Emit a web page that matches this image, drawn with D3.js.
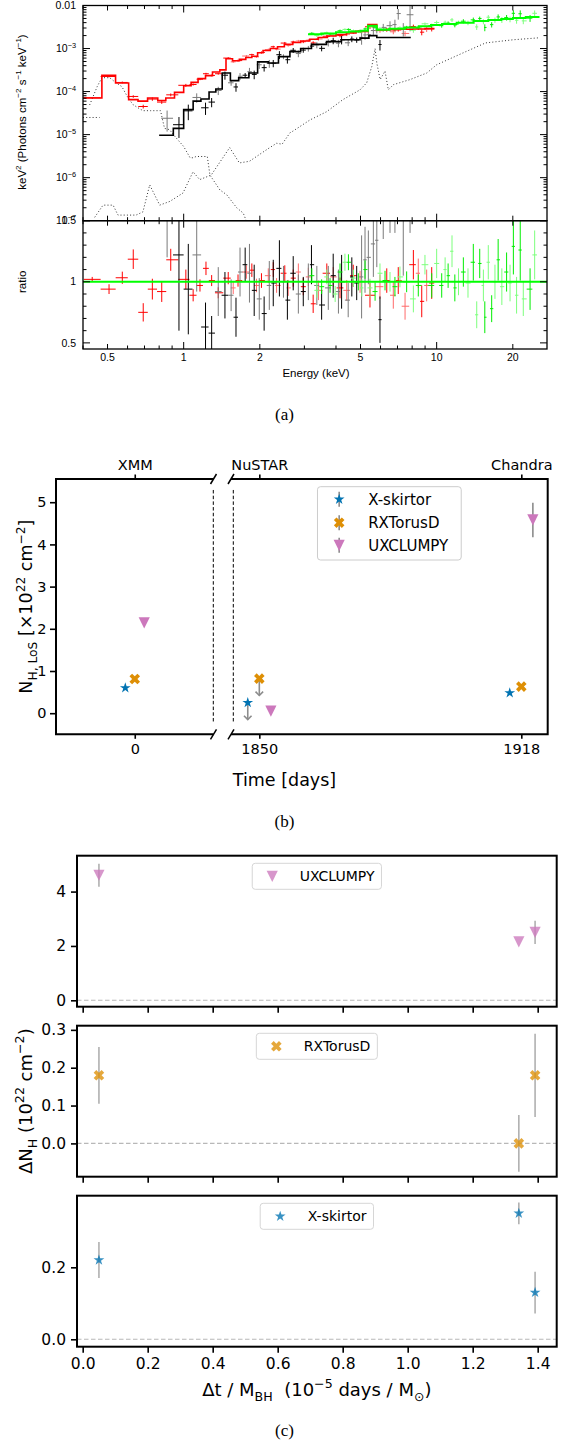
<!DOCTYPE html>
<html>
<head>
<meta charset="utf-8">
<title>Broadband X-ray spectrum and line-of-sight column density</title>
<script src="https://cdn.jsdelivr.net/npm/d3@7/dist/d3.min.js"></script>
<style>
  html, body { margin: 0; padding: 0; background: #fff; }
  svg { display: block; }
  text { white-space: pre; }
</style>
</head>
<body>
<svg id="fig" width="569" height="1445" viewBox="0 0 569 1445"></svg>
<script>
// ================= (a) unfolded spectrum + data/model ratio =================
// Model curves: bin edges (keV) and E^2 F(E) per bin (photons cm^-2 s^-1 keV)
const xmmModelEdges = [0.40,0.475,0.538,0.606,0.66,0.72,0.79,0.85,0.92,1.0,1.07,1.14,1.22,1.30,1.39,1.47,1.56,1.66,1.76,1.86,1.96,2.06,2.2,2.35,2.5,2.7,2.9,3.15,3.4,3.7,4.0,4.4,4.8,5.35,5.8,6.4,7.2,8.0,9.0,9.8];
const xmmModelFlux = [7.1e-5,2.38e-4,1.58e-4,6.5e-5,6.0e-5,7.1e-5,6.2e-5,7.1e-5,9.6e-5,1.37e-4,1.64e-4,2.0e-4,2.35e-4,2.86e-4,3.2e-4,5.8e-4,5.2e-4,5.6e-4,6.2e-4,6.6e-4,8.0e-4,9.0e-4,1.0e-3,1.1e-3,1.25e-3,1.38e-3,1.5e-3,1.65e-3,1.8e-3,1.95e-3,2.1e-3,2.3e-3,2.5e-3,3.6e-3,2.7e-3,2.75e-3,2.8e-3,2.85e-3,2.9e-3];
const chandraModelEdges = [0.80,0.91,1.00,1.09,1.17,1.26,1.34,1.42,1.53,1.65,1.81,1.96,2.16,2.37,2.63,2.90,3.20,3.67,4.20,4.98,5.40,5.80,7.90];
const chandraModelFlux = [9.7e-6,1.4e-5,3.8e-5,6.0e-5,6.7e-5,9.8e-5,1.15e-4,2.7e-4,1.8e-4,2.1e-4,2.7e-4,4.9e-4,4.6e-4,6.5e-4,8.5e-4,1.0e-3,1.25e-3,1.45e-3,1.6e-3,1.75e-3,2.0e-3,1.8e-3];
const nustarModelEdges = [3.1,3.5,4.0,4.5,5.0,5.35,5.8,6.5,7.5,8.5,9.5,10.5,12,14,16,18,20,22.5,25.5];
const nustarModelFlux = [2.15e-3,2.25e-3,2.4e-3,2.5e-3,2.6e-3,3.4e-3,2.75e-3,2.9e-3,3.1e-3,3.3e-3,3.5e-3,3.7e-3,4.0e-3,4.35e-3,4.6e-3,4.85e-3,5.1e-3,5.4e-3];

// Additive model components (dotted)
const compSoftE = [0.40, 0.465];
const compSoftF = [2.5e-5, 2.5e-5];
const compThermalE = [0.425,0.455,0.475,0.51,0.54,0.57,0.60,0.63,0.66,0.69,0.74,0.81,0.84,0.88,0.91,1.0,1.06,1.09,1.12,1.24,1.27,1.39,1.48,1.62,1.72,1.78];
const compThermalF = [4.9e-5,1.3e-4,2.1e-4,2.1e-4,1.6e-4,1.3e-4,7.5e-5,5.0e-5,4.2e-5,3.6e-5,3.6e-5,3.6e-5,1.4e-5,1.3e-5,1.0e-5,5.3e-6,2.9e-6,2.9e-6,3.1e-6,3.1e-6,1.15e-6,5.2e-7,4.0e-7,2.0e-7,1.5e-7,9e-8];
const compReflE = [0.445,0.48,0.526,0.55,0.648,0.69,0.734,0.804,0.881,0.994,1.089,1.157,1.285,1.52,1.66,1.82,2.0,2.19,2.33,2.45,2.63,2.70,3.16,3.67,4.26,4.98,5.29,5.54,5.71,5.80,5.98,6.25,6.44,6.75,7.85,9.14,10.0,12.7,15.6,20.1,25.2];
const compReflF = [1.2e-7,2.3e-7,2.3e-7,1.35e-7,1.35e-7,1.6e-7,6.8e-7,2.3e-7,2.8e-7,4.4e-7,1.37e-6,9e-7,1.15e-6,5.0e-6,2.2e-6,2.4e-6,3.5e-6,5.0e-6,6.3e-6,6.0e-6,1.1e-5,1.2e-5,2.2e-5,3.4e-5,6.5e-5,1.1e-4,1.6e-4,3.8e-4,1.0e-3,4.6e-4,1.9e-4,3.0e-4,1.1e-4,1.45e-4,1.9e-4,2.7e-4,4.2e-4,7.9e-4,1.35e-3,1.6e-3,1.77e-3];

// Spectral bins: centre energy (keV), unfolded flux, data/model ratio, ratio error
const xmmE = [0.435,0.507,0.572,0.632,0.692,0.752,0.819,0.889,1.02,1.09,1.16,1.225,1.29,1.37,1.50,1.57,1.64,1.77,1.86,1.94,2.03,2.16,2.26,2.33,2.51,2.59,2.71,2.84,2.97,3.11,3.25,3.41,3.68,3.90,4.15,4.41,4.68,4.98,5.45,5.97,6.35,6.74,7.05,7.50,8.09,8.46,8.73,9.13,9.56];
const xmmFlux = [7.2e-5,2.24e-4,1.63e-4,7.7e-5,4.5e-5,6.7e-5,5.7e-5,8.4e-5,1.4e-4,1.46e-4,1.94e-4,2.6e-4,2.37e-4,2.6e-4,6.0e-4,4.9e-4,5.25e-4,6.7e-4,7.2e-4,6.4e-4,8.1e-4,9.45e-4,1.1e-3,9.7e-4,1.34e-3,1.19e-3,1.42e-3,1.49e-3,1.44e-3,1.56e-3,1.35e-3,1.67e-3,1.93e-3,2.03e-3,2.0e-3,2.14e-3,2.4e-3,2.5e-3,3.2e-3,2.6e-3,2.73e-3,2.45e-3,2.78e-3,2.24e-3,3.25e-3,3.05e-3,2.4e-3,2.8e-3,2.87e-3];
const xmmRatio = [1.02,0.94,1.033,1.185,0.75,0.94,0.92,1.18,1.02,0.89,0.97,1.11,1.01,0.91,1.03,0.95,1.01,1.08,1.095,0.97,1.01,1.05,1.1,0.97,1.07,0.95,1.03,1.08,0.96,1.04,0.82,0.93,1.07,1.04,0.95,0.93,1.05,1.0,0.89,0.96,1.01,0.89,1.01,0.80,1.14,1.07,0.84,0.97,0.99];
const xmmRatioErr = [0.02,0.04,0.05,0.08,0.075,0.085,0.085,0.09,0.08,0.05,0.05,0.055,0.045,0.045,0.05,0.05,0.05,0.055,0.055,0.055,0.06,0.06,0.06,0.06,0.065,0.065,0.07,0.07,0.07,0.075,0.075,0.08,0.08,0.08,0.085,0.085,0.09,0.09,0.1,0.1,0.1,0.11,0.11,0.11,0.12,0.12,0.13,0.13,0.13];

const chandraE = [0.86,0.958,1.043,1.126,1.22,1.29,1.37,1.456,1.54,1.61,1.67,1.75,1.82,1.90,1.99,2.08,2.18,2.26,2.39,2.48,2.57,2.71,2.84,2.97,3.11,3.20,3.36,3.51,3.73,3.90,4.09,4.21,4.47,4.62,4.83,5.05,5.21,5.37,5.62,5.80,5.97,6.15,6.54,6.84,7.05,7.38,7.85];
const chandraFlux = [2.4e-5,1.7e-5,3.57e-5,7.3e-5,4.2e-5,5.7e-5,1.06e-4,2.4e-4,1.6e-4,1.28e-4,2.27e-4,2.4e-4,2.9e-4,2.5e-4,4.2e-4,3.6e-4,4.5e-4,4.55e-4,7.2e-4,6.5e-4,5.5e-4,9.1e-4,7.65e-4,9.2e-4,1.0e-3,1.14e-3,1.21e-3,1.01e-3,1.38e-3,1.52e-3,1.33e-3,1.6e-3,1.36e-3,1.66e-3,1.58e-3,1.82e-3,2.07e-3,2.1e-3,2.62e-3,2.68e-3,1.24e-3,3.1e-3,3.4e-3,3.6e-3,6.5e-3,2.9e-3,6.1e-3];
const chandraRatio = [2.45,1.22,0.94,1.22,0.63,0.58,0.92,0.89,0.89,0.71,1.08,1.14,1.07,0.93,0.86,0.74,0.97,0.99,1.11,1.0,0.85,1.07,0.9,0.92,1.0,1.14,0.97,0.81,0.95,1.05,0.92,1.0,0.85,1.04,0.99,1.04,1.18,1.2,1.31,1.34,0.69,1.7,1.9,2.0,3.6,1.6,3.4];
const chandraRatioErr = [1.25,0.62,0.37,0.3,0.2,0.14,0.2,0.19,0.13,0.16,0.2,0.14,0.24,0.21,0.17,0.14,0.2,0.19,0.23,0.13,0.16,0.14,0.16,0.12,0.15,0.16,0.16,0.12,0.18,0.18,0.18,0.22,0.14,0.16,0.14,0.34,0.27,0.22,0.27,0.22,0.19,0.35,0.5,0.6,1.0,0.55,2.0];
const chandraObsId = [1,0,0,1,0,0,1,0,1,0,1,0,1,0,1,0,1,0,0,1,0,0,1,0,1,0,1,0,1,0,1,0,1,0,0,1,1,1,1,1,0,1,1,1,1,1,1];

const nustarE = [3.21,3.36,3.51,3.68,3.79,3.97,4.15,4.34,4.48,4.69,4.90,5.06,5.21,5.45,5.71,5.97,6.25,6.54,6.84,7.16,7.61,8.09,8.46,8.99,9.56,10.0,10.47,10.8,11.1,11.5,11.8,12.2,12.75,13.3,13.96,14.4,14.8,15.3,15.5,16.0,16.5,17.0,17.5,18.1,18.9,19.5,20.1,20.7,21.4,22.0,23.4,24.4];
const nustarFlux = [2.26e-3,2.0e-3,2.16e-3,2.34e-3,2.18e-3,2.03e-3,2.59e-3,2.78e-3,2.78e-3,2.58e-3,2.5e-3,2.47e-3,2.86e-3,3.23e-3,3.13e-3,2.94e-3,2.78e-3,2.9e-3,2.78e-3,3.02e-3,3.1e-3,2.67e-3,3.0e-3,3.76e-3,3.4e-3,4.03e-3,3.4e-3,4.07e-3,3.89e-3,4.63e-3,3.52e-3,4.0e-3,4.32e-3,3.96e-3,4.64e-3,3.18e-3,5.0e-3,4.22e-3,3.09e-3,5.34e-3,3.59e-3,4.6e-3,5.43e-3,4.66e-3,5.24e-3,4.8e-3,6.58e-3,4.54e-3,6.43e-3,4.39e-3,5.08e-3,6.59e-3];
const nustarRatio = [1.05,0.93,0.96,1.04,0.97,0.9,1.08,1.16,1.16,1.03,1.0,0.95,1.1,0.95,0.92,1.07,1.01,1.0,0.96,1.04,1.0,0.86,0.97,1.14,0.97,1.15,0.97,1.1,1.05,1.25,0.95,1.0,1.08,0.99,1.16,0.73,1.15,0.97,0.71,1.16,0.78,1.0,1.18,0.96,1.08,0.99,1.29,0.89,1.26,0.86,0.94,1.22];
const nustarRatioErr = [0.06,0.06,0.06,0.06,0.06,0.065,0.07,0.07,0.065,0.07,0.07,0.07,0.075,0.075,0.075,0.08,0.08,0.08,0.08,0.085,0.085,0.11,0.09,0.08,0.1,0.12,0.1,0.1,0.1,0.13,0.11,0.11,0.12,0.12,0.15,0.11,0.12,0.13,0.13,0.14,0.11,0.14,0.17,0.15,0.16,0.15,0.23,0.15,0.25,0.14,0.17,0.2];

const energyTickValues = [0.5, 1, 2, 5, 10, 20];
const fluxTickExponents = [-2, -3, -4, -5, -6, -7];
const ratioTickValues = [0.5, 1, 1.5];

// ================= (b) N_H,LoS per epoch =================
const epochDays = [0, 1850, 1918];
const epochNames = ["XMM", "NuSTAR", "Chandra"];
const modelNames = ["X-skirtor", "RXTorusD", "UXCLUMPY"];
const modelDayOffset = [-3, 0, 3];
const nhSkirtor = [0.60, 0.25, 0.48];
const nhRXTorus = [0.81, 0.82, 0.63];
const nhUXClumpy = [2.14, 0.05, 4.58];
const nhErrSkirtor = [0, 0.4, 0];
const nhErrRXTorus = [0, 0.4, 0];
const nhErrUXClumpy = [0, 0, 0.41];
const nhUpperLimSkirtor = [false, true, false];
const nhUpperLimRXTorus = [false, true, false];
const nhUpperLimUXClumpy = [false, false, false];
const nhTickValues = [0, 1, 2, 3, 4, 5];

// ================= (c) Delta N_H vs Delta t / M_BH =================
const dtPerMass = [0.05, 1.342, 1.392];
const dnhUXClumpy = [4.6, 2.15, 2.5];
const dnhErrUXClumpy = [0.42, 0, 0.43];
const dnhRXTorus = [0.18, 0.0, 0.18];
const dnhErrRXTorus = [0.075, 0.075, 0.11];
const dnhSkirtor = [0.22, 0.35, 0.13];
const dnhErrSkirtor = [0.05, 0.03, 0.058];
const dtTickValues = [0, 0.2, 0.4, 0.6, 0.8, 1.0, 1.2, 1.4];

// ---------------------------------------------------------------------------
const svg = d3.select("#fig");
const F_SANS = "'Liberation Sans', Arial, Helvetica, sans-serif";
const F_MPL = "'DejaVu Sans', 'Noto Sans', sans-serif";
const F_SERIF = "'Liberation Serif', 'Times New Roman', serif";

// text with sub/superscripts built from tspans
function rich(sel, parts, size) {
  let shift = 0;
  parts.forEach(p => {
    const off = p.sub ? size * 0.28 : p.sup ? -size * 0.42 : 0;
    sel.append("tspan")
      .attr("dy", (off - shift).toFixed(2))
      .attr("font-size", (p.sub || p.sup) ? size * 0.7 : size)
      .text(p.t);
    shift = off;
  });
  return sel;
}

// marker shapes
const symStar = d3.symbolStar;
const symXFilled = {
  draw(ctx, size) {
    const s = Math.sqrt(size) / 4;
    const p = [[-1,-2],[0,-1],[1,-2],[2,-1],[1,0],[2,1],[1,2],[0,1],[-1,2],[-2,1],[-1,0],[-2,-1]];
    ctx.moveTo(p[0][0] * s, p[0][1] * s);
    for (let i = 1; i < p.length; i++) ctx.lineTo(p[i][0] * s, p[i][1] * s);
    ctx.closePath();
  }
};
const symTriDown = {
  draw(ctx, size) {
    const h = Math.sqrt(size) / 2;
    ctx.moveTo(-h, -h); ctx.lineTo(h, -h); ctx.lineTo(0, h); ctx.closePath();
  }
};
const modelStyle = [
  { type: symStar, size: 36, color: "#0173b2" },
  { type: symXFilled, size: 112, color: "#de8f05" },
  { type: symTriDown, size: 125, color: "#cc78bc" }
];
const markerPath = i => d3.symbol().type(modelStyle[i].type).size(modelStyle[i].size)();

// =========================== panel (a) ===========================
const A = { x0: 83, x1: 547, top: 5.5, mid: 220.7, bot: 349 };
const xE = d3.scaleLog().domain([0.4, 27.3]).range([A.x0, A.x1]);
const yF = d3.scaleLog().domain([1e-7, 1e-2]).range([A.mid, A.top]);
const yR = d3.scaleLinear().domain([0.45, 1.5]).range([A.bot, A.mid]);

const defs = svg.append("defs");
defs.append("clipPath").attr("id", "clipSpec").append("rect")
  .attr("x", A.x0).attr("y", A.top).attr("width", A.x1 - A.x0).attr("height", A.mid - A.top);
defs.append("clipPath").attr("id", "clipRatio").append("rect")
  .attr("x", A.x0).attr("y", A.mid).attr("width", A.x1 - A.x0).attr("height", A.bot - A.mid);

const gSpec = svg.append("g").attr("clip-path", "url(#clipSpec)");
const gRat = svg.append("g").attr("clip-path", "url(#clipRatio)");

const lineE = d3.line().x(d => xE(d[0])).y(d => yF(d[1]));

function drawComponent(E, F) {
  gSpec.append("path")
    .attr("d", lineE(E.map((e, i) => [e, F[i]])))
    .attr("fill", "none").attr("stroke", "#333").attr("stroke-width", 1)
    .attr("stroke-dasharray", "1 2.2");
}
drawComponent(compSoftE, compSoftF);
drawComponent(compThermalE, compThermalF);
drawComponent(compReflE, compReflF);

function binBounds(E) {
  return E.map((e, i) => {
    const lo = i > 0 ? Math.sqrt(E[i - 1] * e) : e * Math.sqrt(e / E[1]);
    const hi = i < E.length - 1 ? Math.sqrt(e * E[i + 1]) : e * Math.sqrt(e / E[i - 1]);
    return [lo, hi];
  });
}

function drawSpectrum(E, F, R, RE, colorOf) {
  const b = binBounds(E);
  const pts = E.map((e, i) => ({ e, f: F[i], r: R[i], re: RE[i], lo: b[i][0], hi: b[i][1], c: colorOf(i) }));
  const gs = gSpec.append("g").attr("stroke-width", 1);
  gs.selectAll("g").data(pts).join("g").attr("stroke", d => d.c).each(function (d) {
    const g = d3.select(this);
    const rel = d.re / d.r;
    g.append("line").attr("x1", xE(d.lo)).attr("x2", xE(d.hi)).attr("y1", yF(d.f)).attr("y2", yF(d.f));
    g.append("line").attr("x1", xE(d.e)).attr("x2", xE(d.e))
      .attr("y1", yF(d.f * (1 + rel))).attr("y2", yF(Math.max(d.f * (1 - rel), 1e-9)));
  });
  const gr = gRat.append("g").attr("stroke-width", 1);
  gr.selectAll("g").data(pts).join("g").attr("stroke", d => d.c).each(function (d) {
    const g = d3.select(this);
    g.append("line").attr("x1", xE(d.lo)).attr("x2", xE(d.hi)).attr("y1", yR(d.r)).attr("y2", yR(d.r));
    g.append("line").attr("x1", xE(d.e)).attr("x2", xE(d.e))
      .attr("y1", yR(d.r + d.re)).attr("y2", yR(d.r - d.re));
  });
}

function drawStep(edges, flux, color, w) {
  const pts = flux.map((f, i) => [edges[i], f]);
  pts.push([edges[edges.length - 1], flux[flux.length - 1]]);
  gSpec.append("path")
    .attr("d", d3.line().x(d => xE(d[0])).y(d => yF(d[1])).curve(d3.curveStepAfter)(pts))
    .attr("fill", "none").attr("stroke", color).attr("stroke-width", w);
}

drawSpectrum(xmmE, xmmFlux, xmmRatio, xmmRatioErr, i => (i >= 14 && i % 2 === 1) ? "#ff6a6a" : "#ff0000");
drawSpectrum(chandraE, chandraFlux, chandraRatio, chandraRatioErr, i => chandraObsId[i] ? "#7a7a7a" : "#000000");
drawSpectrum(nustarE, nustarFlux, nustarRatio, nustarRatioErr, i => i % 2 ? "#7dff7d" : "#00ee00");

drawStep(xmmModelEdges, xmmModelFlux, "#ff0000", 1.6);
drawStep(chandraModelEdges, chandraModelFlux, "#000000", 1.6);
drawStep(nustarModelEdges, nustarModelFlux, "#00ff00", 2);

// unity line in the ratio panel
gRat.append("line")
  .attr("x1", xE(xE.domain()[0])).attr("x2", xE(xE.domain()[1]))
  .attr("y1", yR(1)).attr("y2", yR(1))
  .attr("stroke", "#00ff00").attr("stroke-width", 2);

// frames
svg.append("rect").attr("x", A.x0).attr("y", A.top).attr("width", A.x1 - A.x0).attr("height", A.mid - A.top)
  .attr("fill", "none").attr("stroke", "#000").attr("stroke-width", 1.3);
svg.append("rect").attr("x", A.x0).attr("y", A.mid).attr("width", A.x1 - A.x0).attr("height", A.bot - A.mid)
  .attr("fill", "none").attr("stroke", "#000").attr("stroke-width", 1.3);

// inward ticks on all sides
const gTk = svg.append("g").attr("stroke", "#000").attr("stroke-width", 1);
const isDecade = v => Math.abs(Math.log10(v) - Math.round(Math.log10(v))) < 1e-9;
xE.ticks().forEach(v => {
  const labelled = energyTickValues.some(t => Math.abs(t - v) < 1e-9);
  const len = isDecade(v) ? 7 : labelled ? 5 : 3.5;
  const x = xE(v);
  [[A.top, 1], [A.mid, -1], [A.mid, 1], [A.bot, -1]].forEach(([y, dir]) => {
    gTk.append("line").attr("x1", x).attr("x2", x).attr("y1", y).attr("y2", y + dir * len);
  });
});
yF.ticks().forEach(v => {
  const len = isDecade(v) ? 7 : 3.5;
  const y = yF(v);
  gTk.append("line").attr("x1", A.x0).attr("x2", A.x0 + len).attr("y1", y).attr("y2", y);
  gTk.append("line").attr("x1", A.x1).attr("x2", A.x1 - len).attr("y1", y).attr("y2", y);
});
yR.ticks(10).filter(v => v >= 0.5).forEach(v => {
  const len = ratioTickValues.some(t => Math.abs(t - v) < 1e-9) ? 7 : 3.5;
  const y = yR(v);
  gTk.append("line").attr("x1", A.x0).attr("x2", A.x0 + len).attr("y1", y).attr("y2", y);
  gTk.append("line").attr("x1", A.x1).attr("x2", A.x1 - len).attr("y1", y).attr("y2", y);
});

// labels of panel (a)
const gAL = svg.append("g").attr("font-family", F_SANS).attr("fill", "#000");
fluxTickExponents.forEach(p => {
  const t = gAL.append("text").attr("x", 76).attr("y", yF(Math.pow(10, p)) + 3.7)
    .attr("text-anchor", "end").attr("font-size", 10.5);
  if (p === -2) t.text("0.01");
  else rich(t, [{ t: "10" }, { t: "\u2212" + (-p), sup: true }], 10.5);
});
ratioTickValues.forEach(v => {
  gAL.append("text").attr("x", 76).attr("y", yR(v) + 3.7).attr("text-anchor", "end")
    .attr("font-size", 10.5).text(d3.format("~g")(v));
});
energyTickValues.forEach(v => {
  gAL.append("text").attr("x", xE(v)).attr("y", A.bot + 11.6).attr("text-anchor", "middle")
    .attr("font-size", 10.5).text(d3.format("~g")(v));
});
gAL.append("text").attr("x", 316).attr("y", 377.3).attr("text-anchor", "middle")
  .attr("font-size", 11.5).text("Energy (keV)");
gAL.append("text").attr("transform", `translate(26,${yR(1)}) rotate(-90)`).attr("text-anchor", "middle")
  .attr("font-size", 11.5).text("ratio");
rich(gAL.append("text").attr("transform", `translate(26,112) rotate(-90)`).attr("text-anchor", "middle"),
  [{ t: "keV" }, { t: "2", sup: true }, { t: " (Photons cm" }, { t: "\u22122", sup: true }, { t: " s" },
   { t: "\u22121", sup: true }, { t: " keV" }, { t: "\u22121", sup: true }, { t: ")" }], 11.5);

// =========================== panel (b) ===========================
const B = { top: 479, bot: 734.3, l0: 56, l1: 213.5, r0: 231, r1: 547.7 };
const xBL = d3.scaleLinear().domain([-25, 25]).range([B.l0, B.l1]);
const xBR = d3.scaleLinear().domain([1842.65, 1924.85]).range([B.r0, B.r1]);
const yB = d3.scaleLinear().domain([-0.5, 5.55]).range([B.bot, B.top]);
const xOfDay = t => (t < xBR.domain()[0] ? xBL(t) : xBR(t));
const gB = svg.append("g");

function styleAxis(g, size, tw) {
  g.attr("font-family", F_MPL).attr("font-size", size);
  g.select(".domain").remove();
  g.selectAll(".tick line").attr("stroke", "#000").attr("stroke-width", tw);
  g.selectAll(".tick text").attr("fill", "#000");
}
const dayFmt = d => d3.format("d")(d);
const nameOfDay = d => epochNames[epochDays.indexOf(d)];
const leftDays = epochDays.filter(d => d < xBR.domain()[0]);
const rightDays = epochDays.filter(d => d >= xBR.domain()[0]);

gB.append("g").attr("transform", `translate(${B.l0},0)`)
  .call(d3.axisLeft(yB).tickValues(nhTickValues).tickFormat(d3.format("d")).tickSize(6).tickPadding(3.5))
  .call(styleAxis, 14.5, 1.6);
gB.append("g").attr("transform", `translate(0,${B.bot})`)
  .call(d3.axisBottom(xBL).tickValues(leftDays).tickFormat(dayFmt).tickSize(4.5).tickPadding(4.5))
  .call(styleAxis, 14.5, 1.6);
gB.append("g").attr("transform", `translate(0,${B.bot})`)
  .call(d3.axisBottom(xBR).tickValues(rightDays).tickFormat(dayFmt).tickSize(4.5).tickPadding(4.5))
  .call(styleAxis, 14.5, 1.6);
gB.append("g").attr("transform", `translate(0,${B.top})`)
  .call(d3.axisTop(xBL).tickValues(leftDays).tickFormat(nameOfDay).tickSize(4.5).tickPadding(4.5))
  .call(styleAxis, 14.5, 1.6);
gB.append("g").attr("transform", `translate(0,${B.top})`)
  .call(d3.axisTop(xBR).tickValues(rightDays).tickFormat(nameOfDay).tickSize(4.5).tickPadding(4.5))
  .call(styleAxis, 14.5, 1.6);

// spines of the broken axis
gB.append("path").attr("d", `M${B.l1},${B.top}H${B.l0}V${B.bot}H${B.l1}`)
  .attr("fill", "none").attr("stroke", "#000").attr("stroke-width", 2);
gB.append("path").attr("d", `M${B.r0},${B.top}H${B.r1}V${B.bot}H${B.r0}`)
  .attr("fill", "none").attr("stroke", "#000").attr("stroke-width", 2);
[[B.l1, B.top], [B.l1, B.bot], [B.r0, B.top], [B.r0, B.bot]].forEach(([x, y]) => {
  gB.append("line").attr("x1", x - 3).attr("y1", y + 5).attr("x2", x + 3).attr("y2", y - 5)
    .attr("stroke", "#000").attr("stroke-width", 1.5);
});
const bh = B.bot - B.top;
[B.l1 - 0.2, B.r0 + 2.3].forEach(x => {
  gB.append("line").attr("x1", x).attr("x2", x)
    .attr("y1", B.top + 0.043 * bh).attr("y2", B.bot - 0.043 * bh)
    .attr("stroke", "#000").attr("stroke-width", 1).attr("stroke-dasharray", "3.5 2.2");
});

// points, error bars and upper-limit arrows
const nhSeries = [
  { v: nhSkirtor, e: nhErrSkirtor, ul: nhUpperLimSkirtor },
  { v: nhRXTorus, e: nhErrRXTorus, ul: nhUpperLimRXTorus },
  { v: nhUXClumpy, e: nhErrUXClumpy, ul: nhUpperLimUXClumpy }
];
const gBe = gB.append("g").attr("stroke", "#8c8c8c").attr("stroke-width", 1.6).attr("fill", "none");
const gBm = gB.append("g");
nhSeries.forEach((s, m) => {
  epochDays.forEach((day, i) => {
    const x = xOfDay(day + modelDayOffset[m]);
    const v = s.v[i];
    if (s.ul[i]) {
      const yEnd = yB(v - s.e[i]);
      gBe.append("line").attr("x1", x).attr("x2", x).attr("y1", yB(v)).attr("y2", yEnd);
      gBe.append("path").attr("d", `M${x - 3.8},${yEnd - 3.8}L${x},${yEnd}L${x + 3.8},${yEnd - 3.8}`);
    } else if (s.e[i] > 0) {
      gBe.append("line").attr("x1", x).attr("x2", x).attr("y1", yB(v + s.e[i])).attr("y2", yB(v - s.e[i]));
    }
    gBm.append("path").attr("d", markerPath(m)).attr("transform", `translate(${x},${yB(v)})`)
      .attr("fill", modelStyle[m].color);
  });
});

// legend of panel (b)
{
  const lg = gB.append("g");
  const rows = modelNames.map((n, i) => i);
  const rowY = [12.6, 36, 58.6];
  const box = lg.append("rect");
  let maxW = 0;
  rows.forEach(i => {
    const t = lg.append("text").attr("x", 50.7).attr("y", rowY[i]).attr("dy", "0.36em")
      .attr("font-family", F_MPL).attr("font-size", 15).attr("fill", "#000").text(modelNames[i]);
    maxW = Math.max(maxW, t.node().getComputedTextLength());
  });
  rows.forEach(i => {
    lg.append("line").attr("x1", 21.7).attr("x2", 21.7).attr("y1", rowY[i] - 7.5).attr("y2", rowY[i] + 7.5)
      .attr("stroke", "#8c8c8c").attr("stroke-width", 1.6);
    lg.append("path").attr("d", markerPath(i)).attr("transform", `translate(21.7,${rowY[i]})`)
      .attr("fill", modelStyle[i].color);
  });
  const w = 50.7 + maxW + 13;
  box.attr("x", 0).attr("y", 0).attr("width", w).attr("height", 73.3).attr("rx", 3)
    .attr("fill", "#fff").attr("fill-opacity", 0.8).attr("stroke", "#cccccc").attr("stroke-width", 1);
  lg.attr("transform", `translate(${(B.r0 + B.r1) / 2 - w / 2},${B.top + 7.7})`);
}

// axis titles of panel (b)
svg.append("text").attr("x", 284.5).attr("y", 786.3).attr("text-anchor", "middle")
  .attr("font-family", F_MPL).attr("font-size", 17.5).attr("fill", "#000").text("Time [days]");
rich(svg.append("text").attr("transform", `translate(32,${(B.top + B.bot) / 2}) rotate(-90)`)
  .attr("text-anchor", "middle").attr("font-family", F_MPL).attr("fill", "#000"),
  [{ t: "N" }, { t: "H, LoS", sub: true }, { t: " [\u00d710" }, { t: "22", sup: true },
   { t: " cm" }, { t: "\u22122", sup: true }, { t: "]" }], 17.5);

// =========================== panel (c) ===========================
const C = { x0: 77, x1: 556.7 };
const xC = d3.scaleLinear().domain([-0.0175, 1.4585]).range([C.x0, C.x1]);
const panelsC = [
  { m: 2, v: dnhUXClumpy, e: dnhErrUXClumpy, top: 855.7, bot: 1006.7, dom: [-0.235, 5.32], ticks: [0, 2, 4], fmt: d3.format("d") },
  { m: 1, v: dnhRXTorus, e: dnhErrRXTorus, top: 1025.7, bot: 1176.7, dom: [-0.088, 0.311], ticks: [0, 0.1, 0.2, 0.3], fmt: d3.format(".1f") },
  { m: 0, v: dnhSkirtor, e: dnhErrSkirtor, top: 1195.7, bot: 1346.7, dom: [-0.0206, 0.399], ticks: [0, 0.2], fmt: d3.format(".1f") }
];
panelsC.forEach((p, k) => {
  const y = d3.scaleLinear().domain(p.dom).range([p.bot, p.top]);
  const g = svg.append("g");
  const last = k === panelsC.length - 1;
  // zero reference line
  g.append("line").attr("x1", C.x0).attr("x2", C.x1).attr("y1", y(0)).attr("y2", y(0))
    .attr("stroke", "#b8b8b8").attr("stroke-width", 1.1).attr("stroke-dasharray", "4.5 2.5");
  g.append("g").attr("transform", `translate(${C.x0},0)`)
    .call(d3.axisLeft(y).tickValues(p.ticks).tickFormat(p.fmt).tickSize(6).tickPadding(5))
    .call(styleAxis, 15.5, 1.6);
  g.append("g").attr("transform", `translate(0,${p.bot})`)
    .call(d3.axisBottom(xC).tickValues(dtTickValues).tickFormat(last ? d3.format(".1f") : () => "")
      .tickSize(6).tickPadding(5.5))
    .call(styleAxis, 15.5, 1.6);
  g.append("rect").attr("x", C.x0).attr("y", p.top).attr("width", C.x1 - C.x0).attr("height", p.bot - p.top)
    .attr("fill", "none").attr("stroke", "#000").attr("stroke-width", 2);
  // error bars then markers
  dtPerMass.forEach((t, i) => {
    if (p.e[i] > 0) {
      g.append("line").attr("x1", xC(t)).attr("x2", xC(t)).attr("y1", y(p.v[i] + p.e[i])).attr("y2", y(p.v[i] - p.e[i]))
        .attr("stroke", "#b0b0b0").attr("stroke-width", 1.6);
    }
  });
  dtPerMass.forEach((t, i) => {
    g.append("path").attr("d", markerPath(p.m)).attr("transform", `translate(${xC(t)},${y(p.v[i])})`)
      .attr("fill", modelStyle[p.m].color).attr("fill-opacity", 0.78);
  });
  // legend
  const lg = g.append("g");
  const box = lg.append("rect");
  const txt = lg.append("text").attr("x", 47.5).attr("y", 13).attr("dy", "0.36em")
    .attr("font-family", F_MPL).attr("font-size", 14).attr("fill", "#000").text(modelNames[p.m]);
  lg.append("path").attr("d", markerPath(p.m)).attr("transform", "translate(20,13)")
    .attr("fill", modelStyle[p.m].color).attr("fill-opacity", 0.78);
  const w = 47.5 + txt.node().getComputedTextLength() + 7;
  box.attr("width", w).attr("height", 26).attr("rx", 3).attr("fill", "#fff").attr("fill-opacity", 0.8)
    .attr("stroke", "#d6d6d6").attr("stroke-width", 1);
  lg.attr("transform", `translate(${(C.x0 + C.x1) / 2 - w / 2},${p.top + 7.6})`);
});

rich(svg.append("text").attr("x", (C.x0 + C.x1) / 2).attr("y", 1396).attr("text-anchor", "middle")
  .attr("font-family", F_MPL).attr("fill", "#000"),
  [{ t: "\u0394t / M" }, { t: "BH", sub: true }, { t: "  (10" }, { t: "\u22125", sup: true },
   { t: " days / M" }, { t: "\u2299", sub: true }, { t: ")" }], 18);
rich(svg.append("text").attr("transform", `translate(32,${(panelsC[1].top + panelsC[1].bot) / 2}) rotate(-90)`)
  .attr("text-anchor", "middle").attr("font-family", F_MPL).attr("fill", "#000"),
  [{ t: "\u0394N" }, { t: "H", sub: true }, { t: " (10" }, { t: "22", sup: true }, { t: " cm" },
   { t: "\u22122", sup: true }, { t: ")" }], 18);

// sub-figure captions
[["(a)", 419.5], ["(b)", 826.5], ["(c)", 1436]].forEach(([s, y]) => {
  svg.append("text").attr("x", 284.5).attr("y", y).attr("text-anchor", "middle")
    .attr("font-family", F_SERIF).attr("font-size", 17).attr("fill", "#000").text(s);
});
</script>
</body>
</html>
